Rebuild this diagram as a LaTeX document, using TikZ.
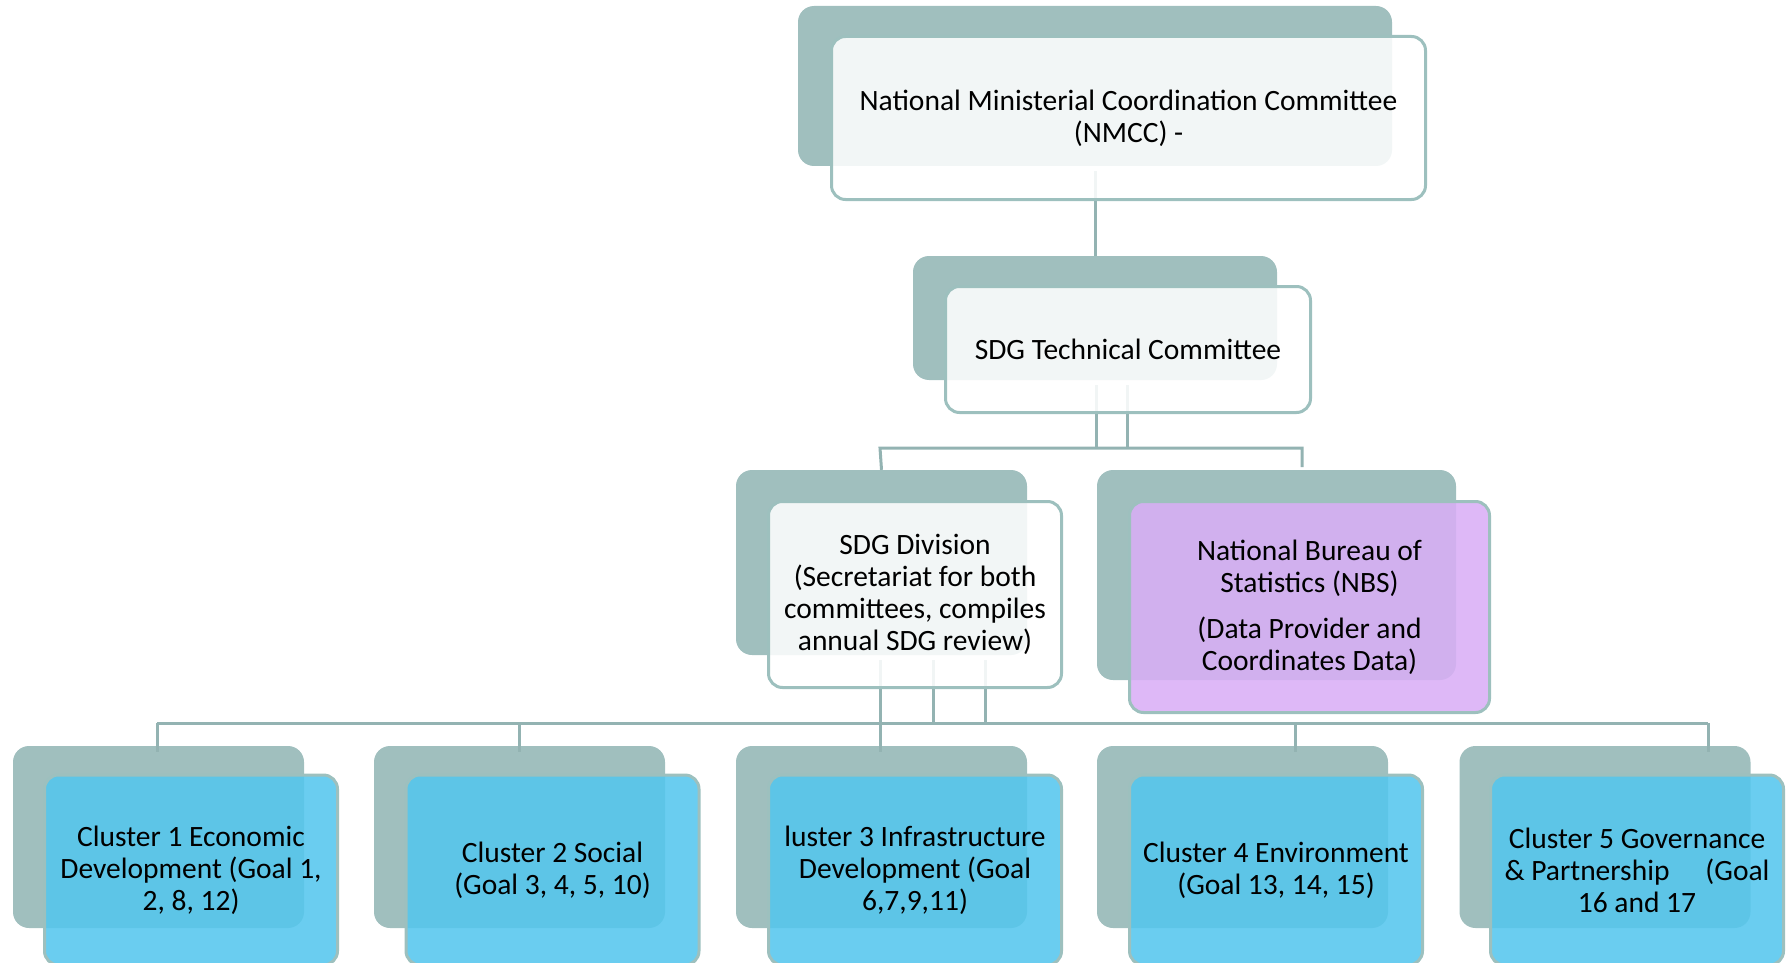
\documentclass[tikz,border=0pt]{standalone}
\usepackage{fontspec}
\setmainfont{Carlito}
\definecolor{backgray}{HTML}{A0BFBE}
\definecolor{edgegray}{HTML}{9DC0BE}
\definecolor{linegray}{HTML}{93B3B2}
\definecolor{cyanfill}{RGB}{84,198,238}
\definecolor{purplefill}{RGB}{217,174,246}
\tikzset{
  backbox/.style={rectangle, rounded corners=16pt, fill=backgray, draw=none, inner sep=0pt},
  frontbox/.style={rectangle, rounded corners=14pt, draw=edgegray, line width=3pt, fill opacity=0.87, text opacity=1, inner sep=0pt, align=center, font=\fontsize{29.5pt}{32pt}\selectfont},
  whitebox/.style={frontbox, fill=white},
  cyanbox/.style={frontbox, fill=cyanfill},
  purplebox/.style={frontbox, fill=purplefill},
  conn/.style={draw=linegray, line width=3pt}
}
\begin{document}
\begin{tikzpicture}[x=1pt,y=-1pt]
\useasboundingbox (0,0) rectangle (1786,963);
% back boxes
\node[backbox, minimum width=594pt, minimum height=160pt] (nmccB) at (1095,86) {};
\node[backbox, minimum width=364pt, minimum height=124pt] (tcB) at (1095,318) {};
\node[backbox, minimum width=291pt, minimum height=185pt] (divB) at (881.5,562.5) {};
\node[backbox, minimum width=359pt, minimum height=210pt] (nbsB) at (1276.5,575) {};
\node[backbox, minimum width=291pt, minimum height=182pt] (c1B) at (158.5,837) {};
\node[backbox, minimum width=291pt, minimum height=182pt] (c2B) at (519.5,837) {};
\node[backbox, minimum width=291pt, minimum height=182pt] (c3B) at (881.5,837) {};
\node[backbox, minimum width=291pt, minimum height=182pt] (c4B) at (1242.5,837) {};
\node[backbox, minimum width=291pt, minimum height=182pt] (c5B) at (1605,837) {};
% junction coordinates
\coordinate (j1) at (1096,448);
\coordinate (j2) at (1127,448);
\coordinate (jL) at (880,448);
\coordinate (jR) at (1302,448);
\coordinate (jRd) at (1302,467);
\coordinate (k1) at (880,723);
\coordinate (k2) at (933,723);
\coordinate (k3) at (985,723);
\coordinate (b1) at (157,723);
\coordinate (b2) at (519,723);
\coordinate (b4) at (1295,723);
\coordinate (b5) at (1708,723);
% connectors
\draw[conn] ([yshift=-5pt]nmccB.south) -- (tcB.north);
\draw[conn] ([yshift=-5pt]tcB.south -| j1) -- (j1);
\draw[conn] ([yshift=-5pt]tcB.south -| j2) -- (j2);
\draw[conn] (divB.north) -- (jL) -- (jR) -- (jRd);
\draw[conn] ([yshift=-5pt]divB.south -| k1) -- (k1);
\draw[conn] ([yshift=-5pt]divB.south -| k2) -- (k2);
\draw[conn] ([yshift=-5pt]divB.south -| k3) -- (k3);
\draw[conn] (b1) -- (b5);
\draw[conn] (b1) -- ([yshift=-6pt]b1 |- c1B.north);
\draw[conn] (b2) -- ([yshift=-6pt]b2 |- c2B.north);
\draw[conn] (k1) -- ([yshift=-6pt]k1 |- c3B.north);
\draw[conn] (b4) -- ([yshift=-6pt]b4 |- c4B.north);
\draw[conn] (b5) -- ([yshift=-6pt]b5 |- c5B.north);
% front boxes
\node[whitebox, minimum width=594pt, minimum height=163pt] (nmccF) at (1128.5,118)
  {National Ministerial Coordination Committee\\(NMCC) -};
\node[whitebox, minimum width=365pt, minimum height=126pt] (tcF) at (1128,349.5)
  {SDG Technical Committee};
\node[whitebox, minimum width=293pt, minimum height=186pt] (divF) at (915,594.5)
  {SDG Division\\(Secretariat for both\\committees, compiles\\annual SDG review)};
\node[purplebox, minimum width=360pt, minimum height=211pt] (nbsF) at (1309.5,607)
  {National Bureau of\\Statistics (NBS)\\[14pt](Data Provider and\\Coordinates Data)};
\node[cyanbox, minimum width=293pt, minimum height=190pt] (c1F) at (191,870)
  {Cluster 1 Economic\\Development (Goal 1,\\2, 8, 12)};
\node[cyanbox, minimum width=293pt, minimum height=190pt] (c2F) at (552.5,870)
  {Cluster 2 Social\\(Goal 3, 4, 5, 10)};
\node[cyanbox, minimum width=293pt, minimum height=190pt] (c3F) at (915,870)
  {luster 3 Infrastructure\\Development (Goal\\6,7,9,11)};
\node[cyanbox, minimum width=293pt, minimum height=190pt] (c4F) at (1276,870)
  {Cluster 4 Environment\\(Goal 13, 14, 15)};
\node[cyanbox, minimum width=293pt, minimum height=190pt] (c5F) at (1637,870)
  {Cluster 5 Governance\\\& Partnership\hspace{36pt}(Goal\\16 and 17};
\end{tikzpicture}
\end{document}
